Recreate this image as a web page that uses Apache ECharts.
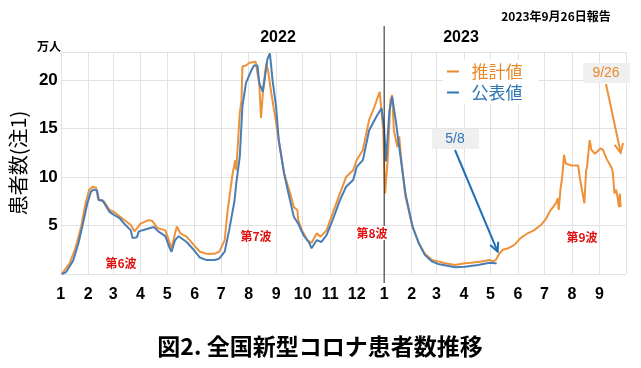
<!DOCTYPE html>
<html>
<head>
<meta charset="utf-8">
<script src="https://cdn.jsdelivr.net/npm/echarts@6/dist/echarts.min.js"></script>
<style>html,body{margin:0;padding:0;background:#fff}#c{width:641px;height:368px}</style>
</head>
<body>
<div id="c"></div>
<script>
// ---- data ----
const estDates = ['2022-01-02','2022-01-11','2022-01-18','2022-01-24','2022-01-29','2022-02-02','2022-02-06','2022-02-10','2022-02-12','2022-02-19','2022-02-25','2022-03-02','2022-03-12','2022-03-21','2022-03-25','2022-03-28','2022-04-01','2022-04-10','2022-04-14','2022-04-20','2022-04-29','2022-05-04','2022-05-06','2022-05-10','2022-05-12','2022-05-16','2022-05-23','2022-05-31','2022-06-07','2022-06-14','2022-06-24','2022-06-29','2022-07-05','2022-07-08','2022-07-14','2022-07-17','2022-07-18','2022-07-22','2022-07-24','2022-07-25','2022-07-29','2022-08-02','2022-08-09','2022-08-11','2022-08-13','2022-08-15','2022-08-16','2022-08-18','2022-08-21','2022-08-23','2022-08-26','2022-08-31','2022-09-04','2022-09-10','2022-09-17','2022-09-21','2022-09-25','2022-09-26','2022-09-30','2022-10-02','2022-10-06','2022-10-11','2022-10-17','2022-10-21','2022-10-28','2022-11-04','2022-11-12','2022-11-19','2022-11-27','2022-12-01','2022-12-08','2022-12-15','2022-12-21','2022-12-27','2022-12-29','2022-12-31','2023-01-02','2023-01-05','2023-01-08','2023-01-10','2023-01-12','2023-01-16','2023-01-18','2023-01-20','2023-01-25','2023-02-02','2023-02-09','2023-02-16','2023-02-24','2023-03-03','2023-03-11','2023-03-22','2023-04-02','2023-04-09','2023-04-21','2023-04-30','2023-05-04','2023-05-07','2023-05-11','2023-05-15','2023-05-21','2023-05-28','2023-06-04','2023-06-12','2023-06-19','2023-06-27','2023-07-02','2023-07-08','2023-07-14','2023-07-16','2023-07-17','2023-07-19','2023-07-21','2023-07-23','2023-07-25','2023-07-31','2023-08-08','2023-08-10','2023-08-12','2023-08-15','2023-08-17','2023-08-18','2023-08-21','2023-08-23','2023-08-27','2023-09-02','2023-09-05','2023-09-09','2023-09-15','2023-09-16','2023-09-18','2023-09-20','2023-09-22','2023-09-23','2023-09-24','2023-09-25'];
const estValues = [0,1.1,2.8,4.9,7.3,8.7,9.0,8.9,7.7,7.45,6.6,6.4,5.7,5.05,4.4,4.7,5.2,5.55,5.5,4.75,4.5,3.2,2.65,4.2,4.9,4.2,3.85,3.0,2.3,2.1,2.1,2.3,3.5,6.3,10.4,11.75,10.7,16.6,17.9,21.4,21.5,21.8,21.9,20.7,19.7,16.1,17.3,19.7,21.7,21.0,19.0,16.2,13.8,10.4,8.3,6.9,6.6,5.6,4.5,4.2,3.5,3.2,4.2,3.85,4.5,6.3,8.3,10.0,10.7,11.75,12.8,15.9,17.25,18.8,18.6,14.8,8.3,11.75,17.9,18.45,14.8,13.1,14.2,12.1,8.0,4.9,3.2,2.1,1.45,1.3,1.1,0.93,1.1,1.15,1.3,1.45,1.3,1.45,2.1,2.5,2.65,3.0,3.7,4.2,4.5,5.05,5.6,6.6,7.3,7.8,6.6,8.7,10.0,12.3,11.4,11.2,11.2,9.85,10.0,7.3,10.7,11.05,13.8,12.8,12.4,12.95,12.8,11.9,10.9,10.55,8.3,8.7,7.6,6.9,8.3,6.9];

const pubDates = ['2022-01-02','2022-01-07','2022-01-15','2022-01-21','2022-01-26','2022-01-31','2022-02-04','2022-02-07','2022-02-11','2022-02-13','2022-02-17','2022-02-25','2022-03-02','2022-03-08','2022-03-15','2022-03-21','2022-03-23','2022-03-28','2022-03-30','2022-04-10','2022-04-16','2022-04-21','2022-04-29','2022-05-04','2022-05-06','2022-05-10','2022-05-14','2022-05-23','2022-05-31','2022-06-07','2022-06-14','2022-06-24','2022-06-29','2022-07-05','2022-07-10','2022-07-16','2022-07-18','2022-07-22','2022-07-25','2022-07-29','2022-08-04','2022-08-07','2022-08-11','2022-08-13','2022-08-17','2022-08-19','2022-08-22','2022-08-25','2022-08-28','2022-09-01','2022-09-04','2022-09-10','2022-09-15','2022-09-21','2022-09-26','2022-10-02','2022-10-08','2022-10-11','2022-10-17','2022-10-22','2022-10-28','2022-11-04','2022-11-12','2022-11-19','2022-11-27','2022-12-01','2022-12-08','2022-12-15','2022-12-23','2022-12-29','2023-01-01','2023-01-03','2023-01-07','2023-01-10','2023-01-14','2023-01-18','2023-01-25','2023-02-02','2023-02-09','2023-02-16','2023-02-24','2023-03-03','2023-03-22','2023-04-02','2023-04-17','2023-04-30','2023-05-06','2023-05-08'];
const pubValues = [0,0.2,1.4,3.2,5.2,7.3,8.5,8.7,8.6,7.6,7.6,6.4,6.1,5.8,5.05,4.5,3.7,3.8,4.4,4.7,4.85,4.4,3.9,2.65,2.3,3.5,3.9,3.3,2.5,1.7,1.45,1.45,1.6,2.3,4.5,7.5,9.3,12.1,17.3,19.7,21.0,21.5,21.5,19.7,18.8,20.0,22.1,22.75,20.0,17.3,13.8,10.4,8.3,5.9,5.2,4.0,3.3,2.65,3.5,3.3,4.0,5.6,7.6,9.0,9.7,11.05,11.75,14.8,16.2,17.1,15.0,11.6,16.9,18.3,15.9,13.1,8.3,4.9,3.2,1.95,1.3,1.03,0.69,0.75,0.93,1.15,1.1,1.1];

const monthTicks = ['2022-01-01','2022-02-01','2022-03-01','2022-04-01','2022-05-01','2022-06-01','2022-07-01','2022-08-01','2022-09-01','2022-10-01','2022-11-01','2022-12-01','2023-01-01','2023-02-01','2023-03-01','2023-04-01','2023-05-01','2023-06-01','2023-07-01','2023-08-01','2023-09-01','2023-10-01'];
const monthLabels = ['1','2','3','4','5','6','7','8','9','10','11','12','1','2','3','4','5','6','7','8','9',''];
const yTickLabels = ['5','10','15','20'];
const seriesNames = ['推計値','公表値'];

// ---- helpers ----
function ts(s){ const p = s.split('-').map(Number); return Date.UTC(p[0], p[1]-1, p[2]); }
const tickTs = monthTicks.map(ts);
const labelMap = {}; tickTs.forEach((t,i)=>{ labelMap[t] = monthLabels[i]; });

const ORANGE = '#EE9239', BLUE = '#4A7DB5';
const LAT = '"Liberation Sans", Arial, sans-serif';
const CJK = '"Noto Sans CJK JP", "Liberation Sans", sans-serif';

const chart = echarts.init(document.getElementById('c'), null, {renderer:'canvas'});
const option = {
  animation: false,
  backgroundColor: '#fff',
  grid: { left: 54, right: 15, top: 52, bottom: 94 },
  xAxis: {
    type: 'value',
    min: tickTs[0], max: tickTs[tickTs.length-1],
    axisLine: { show: false },
    axisTick: { show: false, customValues: tickTs },
    splitLine: { show: true, lineStyle: { color: '#e2e2e2', width: 1 } },
    axisLabel: {
      customValues: tickTs.slice(0, -1),
      margin: 13, fontSize: 16, fontWeight: 'bold', color: '#000', fontFamily: LAT,
      formatter: v => (labelMap[v] !== undefined ? labelMap[v] : '')
    }
  },
  yAxis: {
    type: 'value', min: 0, max: 22.9, interval: 5,
    name: '患者数(注1)', nameLocation: 'middle', nameRotate: 90, nameGap: 27,
    nameTextStyle: { fontSize: 20, color: '#000', fontFamily: CJK },
    axisLine: { show: false }, axisTick: { show: false },
    splitLine: { lineStyle: { color: '#e2e2e2', width: 1 } },
    axisLabel: {
      margin: 3, fontSize: 17, fontWeight: 'bold', color: '#000', fontFamily: LAT,
      formatter: v => { const s = String(v); return yTickLabels.indexOf(s) >= 0 ? s : ''; }
    }
  },
  legend: {
    orient: 'vertical', left: 443, top: 60,
    backgroundColor: '#fff', padding: [3, 16, 3, 4],
    itemWidth: 12, itemHeight: 2, itemGap: 4, icon: 'rect',
    textStyle: { fontSize: 17, fontFamily: CJK },
    formatter: n => '  ' + n,
    data: [
      { name: seriesNames[0], textStyle: { color: '#E8892B' }, itemStyle: { color: '#E8892B' } },
      { name: seriesNames[1], textStyle: { color: '#2E75B6' }, itemStyle: { color: '#2E75B6' } }
    ]
  },
  series: [
    { name: seriesNames[0], type: 'line', showSymbol: false, symbol: 'none', color: ORANGE,
      lineStyle: { width: 2, color: ORANGE }, data: estDates.map((d,i)=>[ts(d), estValues[i]]) },
    { name: seriesNames[1], type: 'line', showSymbol: false, symbol: 'none', color: BLUE,
      lineStyle: { width: 2, color: BLUE }, data: pubDates.map((d,i)=>[ts(d), pubValues[i]]) }
  ]
};
chart.setOption(option);

// ---- annotations ----
function arrow(x1,y1,x2,y2,color){
  const a = Math.atan2(y2-y1, x2-x1), L = 10, w = 0.45;
  return { type:'group', z: 50, children: [
    { type:'line', shape:{x1,y1,x2,y2}, style:{stroke:color, lineWidth:2} },
    { type:'polyline', shape:{ points:[[x2-L*Math.cos(a-w), y2-L*Math.sin(a-w)],[x2,y2],[x2-L*Math.cos(a+w), y2-L*Math.sin(a+w)]] }, style:{stroke:color, lineWidth:2, fill:null} }
  ]};
}
const yearX = chart.convertToPixel({gridIndex:0}, [ts('2023-01-01'), 0])[0];
const p58 = chart.convertToPixel({gridIndex:0}, [ts('2023-05-08'), 2.3]);
const p926 = chart.convertToPixel({gridIndex:0}, [ts('2023-09-25'), 12.5]);
function txt(x,y,text,font,color,extra){ return { type:'text', x, y, z: 60, style: Object.assign({ text, font, fill: color, align:'center', verticalAlign:'middle' }, extra||{}) }; }
chart.setOption({ graphic: [
  { type:'line', z: 40, shape:{ x1: yearX, y1: 26, x2: yearX, y2: 283 }, style:{ stroke:'#222', lineWidth:1 } },
  txt(278, 38, '2022', 'bold 16px ' + LAT, '#000'),
  txt(461, 38, '2023', 'bold 16px ' + LAT, '#000'),
  txt(556, 16, '2023年9月26日報告', 'bold 12px ' + CJK, '#000'),
  txt(49, 46, '万人', 'bold 12px ' + CJK, '#000'),
  { type:'rect', z: 45, shape:{ x: 432, y: 129, width: 47, height: 20 }, style:{ fill:'#efefef' } },
  txt(455, 139, '5/8', '14px ' + LAT, '#2E75B6'),
  arrow(455, 150, p58[0]+1, p58[1], '#1F6FB5'),
  { type:'rect', z: 45, shape:{ x: 583, y: 63, width: 47, height: 20 }, style:{ fill:'#efefef' } },
  txt(606, 73, '9/26', '14px ' + LAT, '#E8892B'),
  arrow(606, 84, p926[0], p926[1], '#EE9239'),
  txt(121, 263, '第6波', 'bold 12px ' + CJK, '#E01010'),
  txt(256, 236, '第7波', 'bold 12px ' + CJK, '#E01010'),
  txt(372, 233, '第8波', 'bold 12px ' + CJK, '#E01010', { backgroundColor:'#fff', padding:[1,2] }),
  txt(582, 237, '第9波', 'bold 12px ' + CJK, '#E01010'),
  txt(320, 346, '図2. 全国新型コロナ患者数推移', 'bold 23px ' + CJK, '#000')
]});
</script>
</body>
</html>
